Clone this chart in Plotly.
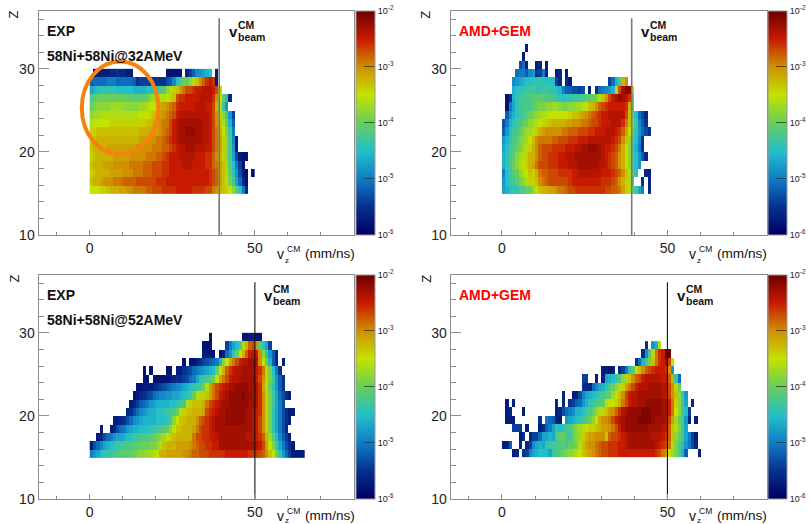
import numpy as np
import plotly.graph_objects as go

# Values are decades above 1e-6, in tenths: 40 = 1e-2, 0 = empty cell. Rows run Z = 15, 16, ...; columns are 1 mm/ns wide from 0.
EXP32 = [
[25,25,25,26,26,27,28,28,28,29,29,30,30,31,31,31,31,32,32,33,33,33,34,34,34,34,35,35,35,35,35,34,34,34,34,33,33,31,30,28,27,26,25,22,19,15,10,4],
[27,28,28,29,30,30,30,31,31,31,32,32,32,32,33,33,33,33,33,33,34,34,34,35,35,35,35,35,35,35,35,35,35,35,35,35,34,33,32,29,27,24,21,17,13,9,4,2],
[26,27,28,28,28,28,29,29,29,29,30,30,30,31,31,31,32,32,32,33,33,33,34,34,35,35,35,35,35,35,35,35,35,35,35,35,34,33,32,29,27,24,20,16,12,7,3,2,0,2],
[27,28,28,28,29,29,29,30,30,30,30,30,31,31,31,31,32,32,32,33,33,33,34,34,35,35,35,35,36,36,36,35,35,35,35,34,34,32,31,29,27,23,19,15,10,6,2],
[26,27,28,28,28,28,28,29,29,29,29,29,30,30,30,30,30,31,31,31,32,32,33,34,35,35,35,36,36,36,36,36,35,35,35,34,34,32,30,28,26,22,18,13,7,3,2,2],
[27,28,28,28,28,29,29,29,29,29,29,29,29,29,30,30,30,30,30,31,31,31,32,32,33,34,35,36,36,37,37,37,36,36,36,35,35,33,31,29,26,22,18,12,3],
[27,27,28,28,28,28,28,28,28,28,28,28,28,28,28,29,29,29,30,30,31,31,32,33,34,35,36,37,37,37,37,37,37,37,36,36,35,33,31,29,26,22,18,11,3],
[26,26,27,27,27,27,27,27,27,27,27,27,27,27,27,28,28,28,28,29,29,30,31,32,33,35,36,37,37,38,38,38,37,37,36,36,35,33,31,28,25,21,17,10],
[24,25,25,25,25,25,26,26,26,26,26,26,26,26,26,26,26,27,27,28,29,30,31,31,33,35,36,37,37,37,37,37,37,37,36,36,35,33,30,27,24,20,14,8],
[22,23,23,24,24,24,24,24,24,24,24,24,24,24,24,25,25,25,26,27,28,29,30,31,32,33,35,36,36,36,36,36,36,36,36,36,35,33,30,26,22,18,12,6],
[20,21,22,22,22,22,23,23,23,23,22,22,22,22,22,23,23,24,25,25,26,28,29,30,31,32,34,35,35,35,35,35,36,36,36,35,35,33,28,24,17,12],
[18,19,20,20,20,20,20,20,20,20,20,20,19,19,19,19,19,20,22,23,24,24,24,25,26,27,33,34,34,35,35,35,35,36,36,36,36,34,30,25,20,15,4],
[13,14,15,16,16,16,16,16,15,15,15,15,15,14,14,14,14,15,15,16,16,18,19,22,24,26,27,29,31,33,33,34,35,35,36,36,36,35,33,26],
[8,9,9,9,9,10,10,10,9,9,9,9,9,8,5,6,6,6,5,5,5,5,5,7,8,11,15,18,20,20,22,24,27,30,32,34,35,34,3],
[0,2,3,3,3,3,4,4,5,4,4,3,3,0,0,0,0,0,0,0,0,0,0,2,2,2,2,2,0,4,6,8,11,12,13,14,15,0,3],
]
AMD32 = [
[13,14,15,16,16,18,18,20,20,22,25,27,28,28,29,29,30,31,31,32,33,33,34,34,34,34,34,34,34,34,34,33,33,32,32,31,29,26,24,21,17,13,10,0,4],
[12,15,17,17,19,21,22,24,26,26,27,30,31,32,33,33,33,33,33,33,34,35,35,35,35,35,35,35,35,35,34,34,34,33,32,30,28,26,24,18,0,0,5,0,4],
[10,15,17,19,20,22,24,25,27,26,28,31,32,32,33,33,33,34,34,34,34,35,35,36,36,36,36,36,36,36,35,35,35,34,33,32,30,27,24,20,16,0,0,4,3],
[14,16,18,20,22,24,25,26,28,29,31,33,33,33,34,34,34,35,35,35,36,36,36,37,37,37,37,37,37,36,36,35,34,33,32,30,28,25,22,19,15,12],
[14,16,18,19,22,23,24,26,28,28,30,32,33,33,34,34,34,35,35,36,36,36,37,37,37,37,37,37,37,37,36,35,34,33,32,30,28,25,22,19,15,12,8,4],
[13,15,17,18,20,21,23,24,26,28,30,32,33,33,33,34,34,34,34,35,35,35,36,36,37,37,38,38,38,37,36,35,35,34,33,31,28,25,22,18,14,10,5],
[12,14,16,18,19,21,22,23,25,27,30,31,31,31,31,32,32,33,33,33,34,34,34,35,35,35,36,36,36,36,36,36,36,35,34,33,30,27,23,19,15,11,5],
[8,12,15,17,18,20,21,23,23,24,26,28,29,30,30,30,30,30,31,31,32,32,32,33,33,33,34,34,35,35,35,36,36,36,35,34,32,29,25,21,16,12,9,7,5],
[7,10,14,16,17,18,20,20,22,23,24,25,26,26,27,28,28,28,28,29,29,30,30,30,31,31,32,33,33,34,35,35,35,36,36,36,34,31,27,22,17,11,8,5],
[0,8,12,14,16,17,17,19,20,21,22,23,24,24,25,25,25,25,25,25,26,27,27,28,29,30,31,32,33,34,35,35,36,36,36,36,36,33,27,21,15,9,7,4],
[0,2,10,13,16,17,18,18,18,19,20,21,21,22,22,23,23,22,21,21,22,22,23,23,24,25,27,28,30,32,33,34,35,35,35,35,35,34,28,19],
[0,2,5,14,16,17,17,18,18,19,19,19,19,18,18,18,16,16,15,16,16,17,17,17,18,19,19,20,21,24,27,30,33,35,37,38,37,36,34,20],
[0,0,0,14,15,16,16,17,17,17,16,16,17,17,16,16,15,14,10,8,8,7,7,6,7,0,3,0,5,9,10,11,12,14,24,33,37,39,39,25],
[0,0,0,11,12,13,14,15,15,16,16,16,16,15,16,15,6,4,0,5,3,0,0,0,0,0,0,0,0,0,0,0,6,9,14,18,28,30],
[0,0,0,0,9,10,10,8,11,12,5,6,10,4,0,0,3,4,0,3],
[0,0,0,0,0,7,9,3,0,0,3,4,0,3],
[0,0,0,0,0,0,3],
[0,0,0,0,0,0,0,3],
]
EXP52 = [
[10,12,13,15,16,16,17,17,18,19,19,19,20,20,21,22,22,23,23,24,25,28,28,29,29,29,29,29,30,30,31,32,32,33,33,33,34,34,34,34,34,35,35,35,35,35,35,35,34,34,34,33,32,30,27,25,20,16,12,9,6,3,3,3,3],
[3,7,9,11,13,14,15,16,17,17,18,18,18,19,19,20,20,20,21,21,22,24,27,28,28,28,29,29,29,29,30,31,32,33,33,34,34,35,35,37,37,37,37,37,37,37,37,37,37,37,36,35,33,29,25,21,17,13,10,7,5,3],
[0,0,3,4,7,9,10,12,13,13,14,15,16,17,17,18,18,18,19,20,21,22,23,25,26,27,28,28,28,28,28,31,33,33,34,34,35,35,36,37,37,37,37,37,37,37,37,36,36,36,35,34,32,28,23,19,15,11,8,6,3],
[0,0,0,3,0,0,3,4,7,9,10,12,13,14,14,15,15,15,16,17,17,18,19,20,22,25,27,27,28,28,28,29,31,33,34,34,35,36,37,37,37,37,37,37,37,37,37,37,37,36,35,33,30,26,21,16,13,10,7,4],
[0]*7+[3,3,4,5,7,9,11,12,13,14,14,14,14,15,15,15,16,17,22,25,27,27,28,28,28,30,32,33,34,35,36,37,37,37,38,38,38,38,38,38,37,37,36,35,33,30,26,21,16,13,10,7,5,3],
[0]*11+[4,5,7,9,11,12,13,14,14,15,15,16,17,17,18,20,24,26,27,27,28,28,28,29,33,34,35,36,37,37,38,38,38,38,38,38,37,37,36,35,34,30,26,21,16,13,10,7,5,3,3],
[0]*12+[3,4,6,8,9,10,12,13,14,14,14,14,15,15,16,17,18,24,26,27,27,27,28,31,33,34,35,36,37,37,38,38,38,38,38,38,37,37,36,34,30,26,21,17,13,10,7],
[0]*13+[2,3,4,5,6,7,9,10,11,11,12,12,13,13,14,15,16,17,20,24,26,26,27,29,31,33,35,36,37,38,38,38,38,39,38,38,37,36,34,30,26,21,17,13,9,7,5,3],
[0]*14+[2,2,3,3,3,4,5,6,7,8,9,10,11,12,13,14,15,16,17,18,20,24,29,31,33,34,35,36,37,37,38,38,38,38,37,37,36,34,29,24,20,16,12,8,5],
[0]*16+[2,2,0,2,2,2,2,2,3,4,5,5,6,7,9,10,13,16,17,18,19,20,25,29,31,33,35,36,36,37,37,37,37,37,35,33,30,26,21,17,12,8,5],
[0]*16+[2,0,2,0,0,0,0,2,2,0,3,3,5,6,7,9,10,11,12,13,14,15,20,25,28,32,34,35,36,36,37,37,37,37,35,34,31,26,21,15,10,5],
[0]*28+[2,0,2,2,4,5,6,7,8,9,10,14,22,25,29,31,33,35,36,36,37,37,36,30,25,20,14,8,4,0,3],
[0]*34+[3,3,2,2,0,2,3,9,12,16,20,25,28,32,35,36,35,30,22,16,12,8,4],
[0]*34+[2,2,2,0,0,0,0,6,10,13,15,18,24,28,32,33,30,19,16,13,6],
[0]*36+[2,0,0,0,0,0,0,0,0,0,2,2,3,3,2,2],
]
AMD52 = [
[0,0,0,3,4,0,5,6,11,13,14,15,15,15,13,17,18,19,20,21,22,23,24,25,27,28,29,30,31,32,33,33,34,34,34,35,35,35,35,35,35,35,35,35,35,35,34,33,31,29,25,23,21,18,14,8,0,0,0,3],
[3,3,8,0,0,4,0,4,6,11,13,14,13,17,17,17,18,18,19,17,20,20,21,24,27,29,30,30,31,32,33,33,34,34,34,35,35,36,37,37,37,37,37,37,37,37,36,35,34,33,31,26,21,18,15,12,10,7,4],
[0,0,0,0,0,3,5,0,4,6,6,9,13,13,14,13,18,19,20,17,17,20,22,23,26,28,29,29,30,30,30,27,32,33,33,34,35,36,37,37,37,37,37,37,37,36,36,36,35,34,32,27,22,20,17,13,10,6,3],
[0,0,0,6,6,6,0,3,0,0,0,3,5,8,10,13,16,15,16,17,18,20,22,23,24,25,26,26,27,28,29,29,30,31,33,35,37,38,38,38,38,38,38,38,37,37,37,37,36,35,32,27,24,21,17,13],
[0,3,3,3,0,0,0,0,0,0,0,5,0,10,9,8,4,3,0,12,13,14,15,16,17,18,20,22,25,28,30,30,31,33,35,36,37,38,38,38,38,39,39,39,39,38,37,37,37,36,33,29,23,20,17,12,4,0,3],
[0,3,4,0,0,0,3,0,0,0,0,0,0,0,0,0,3,4,7,9,10,11,14,14,15,17,18,20,22,24,26,27,29,30,32,34,36,37,38,38,38,38,39,39,39,38,38,38,37,37,35,31,25,22,18,15,6],
[0,3,0,3,0,0,0,0,0,0,0,0,0,0,0,0,4,0,4,0,5,6,8,9,12,14,16,17,18,19,19,24,25,25,26,28,31,33,35,36,36,37,37,38,38,38,38,38,37,37,35,31,26,22,18,13,0,4],
[0]*18+[4,0,0,3,3,7,11,13,14,15,16,17,18,19,20,23,25,27,30,33,35,36,36,37,37,37,37,37,37,37,36,35,33,30,27,22,17,12],
[0]*24+[5,4,4,9,11,13,14,16,18,20,22,24,26,29,31,33,35,36,36,36,37,37,37,37,36,36,33,30,26,20],
[0]*24+[6,6,0,0,3,0,3,13,14,15,17,18,22,26,27,30,32,33,35,36,36,36,36,36,35,35,32,28,16,9],
[0]*30+[3,3,2,3,0,4,6,10,16,19,25,27,30,32,33,34,35,35,35,34,30,12],
[0]*40+[5,9,14,18,21,27,31,34,35,37,33,25],
[0]*42+[4,11,18,26,31,34,35,40,40],
[0]*43+[5,0,12,14,24],
]
BEAM32 = 39.2
BEAM52 = 50.0
Z_START = 15
X_TICK_VALUES = [0, 50]
Y_TICK_VALUES = [10, 20, 30]
PANEL_TITLES = ["EXP", "AMD+GEM", "EXP", "AMD+GEM"]
SYSTEMS = ["58Ni+58Ni@32AMeV", None, "58Ni+58Ni@52AMeV", None]
DECADES = [-6, -5, -4, -3, -2]
MINOR_MULTIPLES = [2, 3, 4, 5, 6, 7, 8, 9]

W, H = 810, 524
FONT = "Liberation Sans"
RAINBOW = [(0, 0, 99), (5, 48, 142), (15, 124, 198), (35, 192, 201), (102, 206, 90),
           (196, 226, 0), (208, 144, 0), (199, 26, 0), (110, 0, 0)]
SCALE = [[i / 8, "rgb(%d,%d,%d)" % c] for i, c in enumerate(RAINBOW)]

panels = [
    dict(data=EXP32, beam=BEAM32, box=(38.5, 354, 10.7, 235), cb=356, col="#777", lw=1.6, dy=0),
    dict(data=AMD32, beam=BEAM32, box=(450.7, 766.7, 10.7, 235), cb=768.3, col="#777", lw=1.6, dy=0),
    dict(data=EXP52, beam=BEAM52, box=(38.5, 354, 274.7, 499), cb=356, col="#111", lw=1.1, dy=264),
    dict(data=AMD52, beam=BEAM52, box=(450.7, 766.7, 274.7, 499), cb=768.3, col="#111", lw=1.1, dy=264),
]

fig = go.Figure()
ann = []
shapes = []


def px(x, y):
    return x / W, 1 - y / H


def label(x, y, text, size, bold=False, color="#111", anchor="left", angle=0):
    fx, fy = px(x, y)
    ann.append(dict(x=fx, y=fy, xref="paper", yref="paper", text=("<b>%s</b>" % text) if bold else text,
                    showarrow=False, xanchor=anchor, yanchor="middle", textangle=angle, borderpad=0, borderwidth=0,
                    font=dict(family=FONT, size=size, color=color)))


for i, p in enumerate(panels):
    n = i + 1
    xa, ya = ("x", "y") if n == 1 else (f"x{n}", f"y{n}")
    x0, x1, y0, y1 = p["box"]
    ncol = max(len(r) for r in p["data"])
    z = [[(v / 10 - 6) if v else None for v in r] + [None] * (ncol - len(r)) for r in p["data"]]
    cbar = dict(x=p["cb"] / W, xanchor="left", xpad=0, y=1 - y0 / H, yanchor="top", ypad=0,
                len=(y1 - y0) / H, lenmode="fraction", thickness=19, thicknessmode="pixels",
                tickmode="array", tickvals=DECADES, ticktext=["10<sup>%d</sup>" % d for d in DECADES],
                ticks="inside", ticklen=11,
                tickcolor="rgba(40,40,40,0.7)", tickwidth=1, outlinewidth=1, outlinecolor="#999",
                tickfont=dict(family=FONT, size=9, color="#222"))
    fig.add_trace(go.Heatmap(z=z, x0=0.5, dx=1, y0=Z_START + 0.5, dy=1, colorscale=SCALE, zmin=-6, zmax=-2,
                             xaxis=xa, yaxis=ya, colorbar=cbar, hoverongaps=False, xgap=0, ygap=0))
    fig.add_trace(go.Scatter(x=[p["beam"], p["beam"]], y=[10, 36.1], mode="lines", xaxis=xa, yaxis=ya,
                             line=dict(color=p["col"], width=p["lw"]), showlegend=False))
    common = dict(showline=True, linecolor="#8c8c8c", linewidth=1, mirror=True, showgrid=False, zeroline=False,
                  ticks="inside", tickcolor="#8c8c8c", tickwidth=1,
                  tickfont=dict(family=FONT, size=14, color="#222"))
    fig.update_layout(**{
        ("xaxis" if n == 1 else f"xaxis{n}"): dict(
            common, domain=[x0 / W, x1 / W], range=[-15.5, 80], anchor=ya, tickmode="array", tickvals=X_TICK_VALUES,
            ticklen=5, minor=dict(dtick=10, tick0=0, ticks="inside", ticklen=3, tickcolor="#8c8c8c", showgrid=False)),
        ("yaxis" if n == 1 else f"yaxis{n}"): dict(
            common, domain=[1 - y1 / H, 1 - y0 / H], range=[10, 37], anchor=xa, tickmode="array", tickvals=Y_TICK_VALUES,
            ticklen=10, minor=dict(dtick=2, tick0=0, ticks="inside", ticklen=5, tickcolor="#8c8c8c", showgrid=False)),
    })
    cb1 = p["cb"] + 19
    for d in DECADES[:-1]:
        for k in MINOR_MULTIPLES:
            fy = 1 - (y0 + (y1 - y0) * (-2 - d - np.log10(k)) / 4) / H
            shapes.append(dict(type="line", xref="paper", yref="paper", x0=(cb1 - 6) / W, x1=cb1 / W, y0=fy, y1=fy,
                               line=dict(color="rgba(40,40,40,0.65)", width=1)))

    dy = p["dy"]
    left = x0 + 8.5
    title_color = "#111" if PANEL_TITLES[i] == "EXP" else "#ff0000"
    label(left, 30.7 + dy, PANEL_TITLES[i], 14, True, title_color)
    if SYSTEMS[i]:
        label(left, 55.7 + dy, SYSTEMS[i], 14, True)
    zero = x0 + (x1 - x0) * 15.5 / 95.5
    bx = zero + p["beam"] * (x1 - x0) / 95.5
    label(bx + 9.5, 31 + dy, "v", 15, True)
    label(bx + 18.5, 25 + dy, "CM", 10.5, True)
    label(bx + 18.5, 37 + dy, "beam", 10.5, True)
    label(x0 - 25, 15 + dy, "Z", 13, False, "#111", "center", -90)
    lift = 2 if dy else 0
    label(x0 + 238.5, 254 + dy - lift, "v", 14)
    label(x0 + 248.5, 249 + dy - lift, "CM", 8.5)
    label(x0 + 246.5, 260 + dy - 2 * lift, "z", 8)
    label(x0 + 266.5, 253.5 + dy - lift, "(mm/ns)", 13.6)

ELLIPSE_X = [-2.4, 20.8]
ELLIPSE_Y = [19.7, 30.9]
shapes.append(dict(type="circle", xref="x", yref="y", x0=ELLIPSE_X[0], x1=ELLIPSE_X[1], y0=ELLIPSE_Y[0], y1=ELLIPSE_Y[1],
                   line=dict(color="#f5820f", width=4), layer="above"))

fig.update_layout(width=W, height=H, margin=dict(l=0, r=0, t=0, b=0, autoexpand=False), paper_bgcolor="white",
                  plot_bgcolor="white", showlegend=False, annotations=ann, shapes=shapes)
fig.write_html("out.html", config={"displayModeBar": False},
               post_script="document.body.style.margin='0';document.documentElement.style.overflow='hidden';")
